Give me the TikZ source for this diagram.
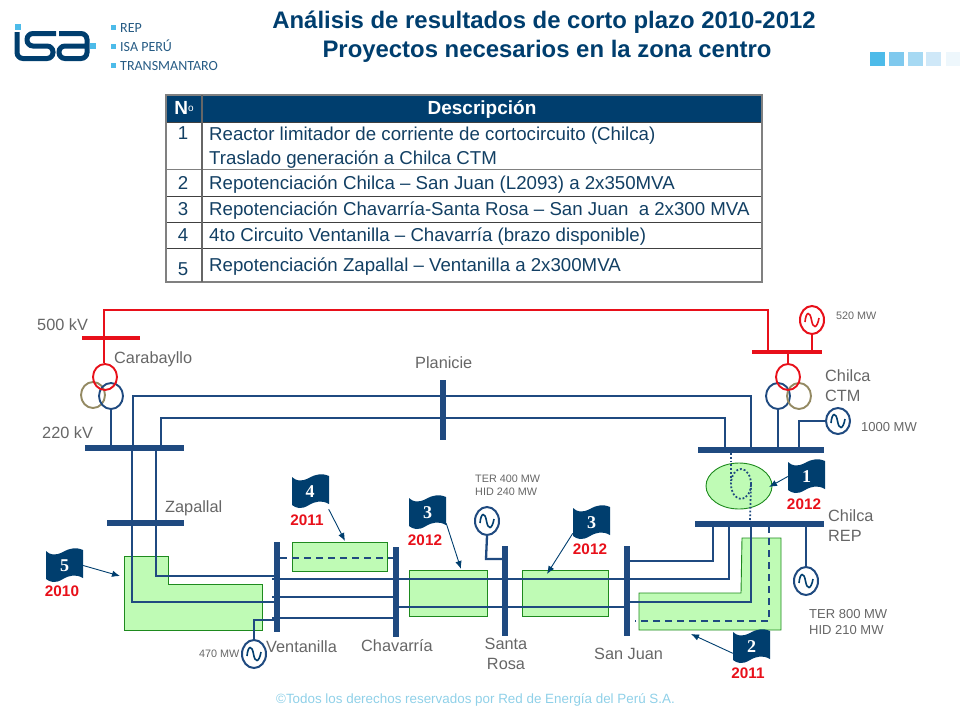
\documentclass[tikz,border=0pt]{standalone}
\usepackage{fontspec}
\setmainfont{Liberation Sans}
\newfontfamily\serifnum{Liberation Serif}
\newfontfamily\logofont{Carlito}
\usetikzlibrary{shapes.geometric,arrows.meta}
\definecolor{navy}{HTML}{003E6E}
\definecolor{busblue}{HTML}{1F4A80}
\definecolor{redline}{HTML}{E8101A}
\definecolor{tan}{HTML}{948A63}
\definecolor{greyt}{HTML}{666666}
\definecolor{gfill}{HTML}{BFFBB5}
\definecolor{gline}{HTML}{1E8A1E}
\definecolor{ttext}{HTML}{123F63}
\definecolor{sqa}{HTML}{4DBBE9}
\definecolor{sqb}{HTML}{7FC9EE}
\definecolor{sqc}{HTML}{A6D9F3}
\definecolor{sqd}{HTML}{CFE8F8}
\definecolor{sqe}{HTML}{EEF7FC}
\definecolor{footc}{HTML}{8FD0E8}
\newcommand\fs[1]{\fontsize{#1}{#1}\selectfont}
\tikzset{
  ln/.style={draw=busblue,line width=2.3pt},
  dashln/.style={draw=busblue,line width=2.3pt,dash pattern=on 7pt off 5pt},
  dotln/.style={draw=busblue,line width=1.8pt,dash pattern=on 1.8pt off 2pt},
  rln/.style={draw=redline,line width=2.3pt},
  hbus/.style={fill=busblue,inner sep=0,minimum height=6pt},
  vbus/.style={fill=busblue,inner sep=0,minimum width=6pt,minimum height=90pt},
  rbus/.style={fill=redline,inner sep=0,minimum height=4.5pt},
  zone/.style={fill=gfill,draw=gline,line width=0.9pt},
  wind/.style={ellipse,inner sep=0,minimum width=24pt,minimum height=26pt,line width=1.9pt},
  gen/.style={ellipse,inner sep=0,minimum width=24pt,minimum height=28pt,line width=2pt,fill=white},
  lab/.style={text=greyt,inner sep=0,font=\fs{16.3},text height=11.7pt,text depth=0pt},
  labs/.style={text=greyt,inner sep=0,font=\fs{10.8},text height=7.8pt,text depth=0pt},
  labm/.style={text=greyt,inner sep=0,font=\fs{13},text height=9.4pt,text depth=0pt},
  year/.style={text=redline,inner sep=0,font=\fs{15.3}\bfseries,text height=11pt,text depth=0pt},
  flagn/.style={inner sep=0,minimum width=37pt,minimum height=35pt,text=white,font=\serifnum\fs{18}\bfseries},
  callout/.style={draw=navy,line width=0.9pt,-{Latex[length=8pt,width=6.5pt]}},
  cell/.style={text=ttext,inner sep=0,font=\fs{18.67},anchor=west,text height=13.4pt,text depth=0pt},
  cellc/.style={text=ttext,inner sep=0,font=\fs{18.67},text height=13.4pt,text depth=0pt},
  head/.style={inner sep=0,text=white,font=\fs{19}\bfseries,text height=13.7pt,text depth=0pt},
  ttl/.style={text=navy,inner sep=0,font=\fs{23.9}\bfseries,text height=17.2pt,text depth=0pt},
  logotxt/.style={text=navy!85,inner sep=0,font=\logofont\fs{14},anchor=west,text height=9pt,text depth=0pt},
  rowline/.style={draw=black!75,line width=1pt},
}
% flag drawn with its top-left corner at (#1,#2)
\newcommand\flagbg[2]{\fill[navy,shift={(#1,#2)}] (0,3) .. controls (4,7) and (9,8) .. (17,4) .. controls (24,0) and (30,-1) .. (37,2) -- (37,30) .. controls (30,26) and (24,27) .. (17,31) .. controls (9,36) and (4,34) .. (0,31) -- cycle;}
% sine mark inside a generator centred at (#1)
\newcommand\sinemark[2]{\draw[#2,line width=1.6pt,shift={(#1)}] (-7,2) .. controls (-6,-9) and (-2,-9) .. (-0.5,0) .. controls (1,9) and (5,9) .. (7,-2);}
\begin{document}
\begin{tikzpicture}[x=1pt,y=-1pt]
\useasboundingbox (0,0) rectangle (960,720);
% logo
\fill[sqa] (15,24) rectangle (21,30);
\fill[sqa] (90,43) rectangle (96,49);
\draw[navy,line width=5pt,line cap=butt,rounded corners=6pt] (17,32) -- (17,58.5) -- (53,58.5) -- (53,46) -- (27,46) -- (27,33.5) -- (56,33.5);
\draw[navy,line width=5pt,rounded corners=6pt] (59,33.5) -- (87,33.5) -- (87,58.5) -- (59,58.5) -- (59,46) -- (85,46);
\foreach \yy/\nm/\tx in {27/la/REP,46/lb/ISA PERÚ,65/lc/TRANSMANTARO}{
  \fill[sqa] (110.5,\yy-2.5) rectangle (115.5,\yy+2.5);
  \node[logotxt] (\nm) at (120,\yy+1) {\tx};
}
% title
\node[ttl] (t1) at (544,20) {Análisis de resultados de corto plazo 2010-2012};
\node[ttl] (t2) at (547,49) {Proyectos necesarios en la zona centro};
% squares
\fill[sqa] (870,52) rectangle (885,66);
\fill[sqb] (889,52) rectangle (904,66);
\fill[sqc] (908,52) rectangle (923,66);
\fill[sqd] (926,52) rectangle (941,66);
\fill[sqe] (946,52) rectangle (960,66);
% table
\fill[navy] (166,95) rectangle (762,122);
\draw[rowline] (166,122) -- (762,122);
\draw[rowline,draw=gray] (166,169) -- (762,169);
\draw[rowline] (166,196) -- (762,196);
\draw[rowline] (166,222) -- (762,222);
\draw[rowline] (166,248) -- (762,248);
\draw[draw=gray,line width=1.3pt] (166,95) -- (166,282) -- (762,282) -- (762,95) -- cycle;
\draw[draw=gray!80!black,line width=1.2pt] (202,95) -- (202,282);
\node[head] (hn) at (184,108) {N\raisebox{3.5pt}{\fs{10}\mdseries o}};
\node[head] (hd) at (482,108) {Descripción};
\node[cellc] (n1) at (183,133) {1};
\node[cellc] (n2) at (183,183) {2};
\node[cellc] (n3) at (183,209) {3};
\node[cellc] (n4) at (183,235) {4};
\node[cellc] (n5) at (183,269) {5};
\node[cell] (r1a) at (209,134) {Reactor limitador de corriente de cortocircuito (Chilca)};
\node[cell] (r1b) at (209,158) {Traslado generación a Chilca CTM};
\node[cell] (r2) at (209,183) {Repotenciación Chilca – San Juan (L2093) a 2x350MVA};
\node[cell] (r3) at (209,209) {Repotenciación Chavarría-Santa Rosa – San Juan\ \ a 2x300 MVA};
\node[cell] (r4) at (209,235) {4to Circuito Ventanilla – Chavarría (brazo disponible)};
\node[cell] (r5) at (209,265) {Repotenciación Zapallal – Ventanilla a 2x300MVA};
% green zones
\fill[zone] (124,556) -- (168,556) -- (168,584) -- (262,584) -- (262,630) -- (124,630) -- cycle;
\fill[zone] (292,542) rectangle (387,571);
\fill[zone] (409,570) rectangle (487,616);
\fill[zone] (522,570) rectangle (608,616);
\fill[zone] (742,538) -- (781,538) -- (781,630) -- (639,630) -- (639,593) -- (741,593) -- cycle;
\node[ellipse,draw=gline,fill=gfill,line width=0.9pt,minimum width=66pt,minimum height=46pt,inner sep=0] (reactor) at (739,486) {};
% buses
\node[rbus,minimum width=58pt] (b500) at (110.5,338) {};
\node[rbus,minimum width=70pt] (bctmr) at (787,352) {};
\node[hbus,minimum width=99pt] (b220) at (134.5,448) {};
\node[hbus,minimum width=77pt] (bzap) at (145.5,523) {};
\node[fill=busblue,inner sep=0,minimum width=6pt,minimum height=60pt] (bpla) at (443,410) {};
\node[hbus,minimum width=126pt] (bctm) at (761,450) {};
\node[hbus,minimum width=129pt] (brep) at (759.5,524) {};
\node[vbus] (bven) at (276.5,587) {};
\node[vbus] (bcha) at (396,591.5) {};
\node[vbus] (bsan) at (505,591) {};
\node[vbus] (bjua) at (627,591) {};
% transformers
\node[wind,draw=tan] (t1t) at (93,395) {};
\node[wind,draw=busblue] (t1b) at (111,396) {};
\node[wind,draw=redline] (t1r) at (105,377) {};
\node[wind,draw=busblue] (t2b) at (778,396) {};
\node[wind,draw=tan] (t2t) at (799,396) {};
\node[wind,draw=redline] (t2r) at (788,377) {};
% red network
\draw[rln] (t1r.north -| 104,0) -- (104,310) -- (768,310) -- (768,0 |- bctmr);
\draw[rln] (t2r.north) -- (t2r.north |- bctmr);
% generators
\node[gen,draw=redline] (g520) at (812,320) {};
\node[gen,draw=busblue,minimum height=26pt] (g1000) at (838,421) {};
\node[gen,draw=busblue] (gsan) at (487,521) {};
\node[gen,draw=busblue] (grep) at (806,581) {};
\node[gen,draw=busblue] (gven) at (254,654) {};
\sinemark{812,320}{redline}
\sinemark{838,421}{navy}
\sinemark{487,521}{navy}
\sinemark{806,581}{navy}
\sinemark{254,654}{navy}
\draw[rln] (g520.south) -- (g520.south |- bctmr);
% blue network
\draw[ln] (t1b.south) -- (t1b.south |- b220);
\draw[ln] (t2b.south) -- (t2b.south |- bctm);
\draw[ln] (g1000.west) -| (799,0 |- bctm);
\draw[ln] (133,0 |- b220) -- (133,396) -- (751,396) -- (751,0 |- bctm);
\draw[ln] (161,0 |- b220) -- (161,418) -- (725,418) -- (725,0 |- bctm);
\draw[ln] (156,0 |- b220) -- (156,576) -- (275,576);
\draw[ln] (132,0 |- b220) -- (132,602) -- (275,602);
\draw[ln] (272,579) -- (396,579);
\draw[ln] (272,597) -- (396,597);
\draw[ln] (272,618) -- (396,618);
\draw[ln] (396,579) -- (627,579);
\draw[ln] (396,607) -- (627,607);
\draw[ln] (gven.north) -- (254,620) -- (275,620);
\draw[ln] (gsan.south) -- (486,559) -- (505,559);
\draw[ln] (713,0 |- brep) -- (713,561) -- (630,561);
\draw[ln] (729,0 |- brep) -- (729,579) -- (627,579);
\draw[ln] (751,0 |- brep) -- (751,602) -- (627,602);
\draw[ln] (grep.north) -- (806,521);
\draw[dashln] (769,526) -- (769,621) -- (635,621);
\draw[dashln] (280,558) -- (393,558);
% reactor detail
\draw[dotln] (731,453) -- (731,483);
\node[ellipse,draw=busblue,line width=1.8pt,dash pattern=on 1.8pt off 2pt,minimum width=20pt,minimum height=30pt,inner sep=0] (ring) at (741,484) {};
\draw[dotln] (751,484) -- (750,521);
% flags
\flagbg{46}{548}\flagbg{292}{474}\flagbg{409}{495}\flagbg{573}{505}\flagbg{788}{459}\flagbg{733}{629}
\node[flagn] (f5) at (64.5,565.5) {5};
\node[flagn] (f4) at (310,491.5) {4};
\node[flagn] (f3a) at (427.5,512.5) {3};
\node[flagn] (f3b) at (591.5,522.5) {3};
\node[flagn] (f1) at (806.5,476.5) {1};
\node[flagn] (f2) at (751.5,646.5) {2};
\node[year] (y5) at (62,591) {2010};
\node[year] (y4) at (307,520) {2011};
\node[year] (y3a) at (425,540) {2012};
\node[year] (y3b) at (590,549) {2012};
\node[year] (y1) at (804,504) {2012};
\node[year] (y2) at (748,673) {2011};
\coordinate (a5) at (120,576);
\coordinate (a4) at (345,541);
\coordinate (a3a) at (461,569);
\coordinate (a3b) at (547,574);
\coordinate (a1) at (769,487);
\coordinate (a2) at (691,634);
\draw[callout] (f5.east) -- (a5);
\draw[callout] (f4.south east) -- (a4);
\draw[callout] (f3a.-30) -- (a3a);
\draw[callout] (f3b.210) -- (a3b);
\draw[callout] (f1.west) -- (a1);
\draw[callout] (f2.200) -- (a2);
% labels
\node[lab,anchor=west] (l500) at (37,325) {500 kV};
\node[lab,anchor=west] (l220) at (42,433) {220 kV};
\node[lab,anchor=west] (lcar) at (114,358) {Carabayllo};
\node[lab,anchor=west] (lpla) at (415,363) {Planicie};
\node[lab,anchor=west] (lzap) at (165,507) {Zapallal};
\node[lab,anchor=west] (lctma) at (825,376) {Chilca};
\node[lab,anchor=west] (lctmb) at (825,396) {CTM};
\node[lab,anchor=west] (lrepa) at (828,516) {Chilca};
\node[lab,anchor=west] (lrepb) at (828,536) {REP};
\node[lab,anchor=west] (lven) at (266,647) {Ventanilla};
\node[lab,anchor=west] (lcha) at (361,646) {Chavarría};
\node[lab] (lsana) at (506,644) {Santa};
\node[lab] (lsanb) at (506,664) {Rosa};
\node[lab,anchor=west] (ljua) at (594,654) {San Juan};
\node[labs,anchor=west] (m520) at (836,316) {520 MW};
\node[labm,anchor=west] (m1000) at (861,427) {1000 MW};
\node[labm,anchor=west] (m800) at (809,614) {TER 800 MW};
\node[labm,anchor=west] (m210) at (809,630) {HID 210 MW};
\node[labs,anchor=west] (m400) at (475,479) {TER 400 MW};
\node[labs,anchor=west] (m240) at (475,492) {HID 240 MW};
\node[labs,anchor=west] (m470) at (199,654) {470 MW};
\node[inner sep=0,text=footc,font=\fs{13.4},text height=9.6pt,text depth=0pt] (foot) at (475.5,699) {©Todos los derechos reservados por Red de Energía del Perú S.A.};
\end{tikzpicture}
\end{document}
